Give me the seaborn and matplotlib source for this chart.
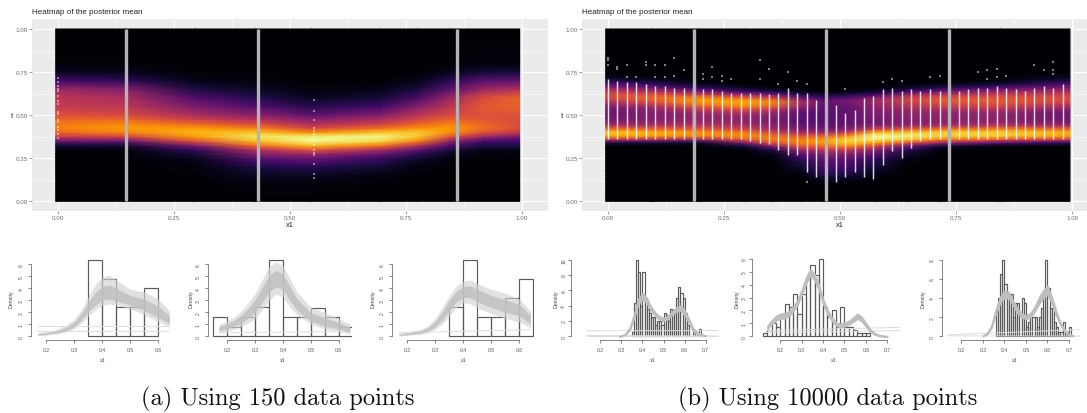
import numpy as np
import pandas as pd
import seaborn as sns

import matplotlib
matplotlib.use("Agg")
import matplotlib.pyplot as plt

W, H = 1087, 414

sns.set_theme(style="white")
plt.rcParams['font.family'] = ['Liberation Sans', 'DejaVu Sans']

# heatmap of panel (a)
left_x = [0, .15, .3, .43, .55, .7, .78, .85, .92, 1]
left_t = [0, .1, .15, .2, .225, .25, .275, .3, .325, .35, .375, .4, .425, .45, .475, .5, .55, .6, .65, .7, .75, .8, 1]
left_heat = [
    [0, 0, 0, 0, 0, 0, .01, .03, .1, .3, .52, .66, .72, .7, .66, .6, .52, .5, .42, .2, .06, .01, 0],
    [0, 0, 0, 0, 0, .005, .01, .03, .1, .3, .55, .72, .78, .74, .66, .58, .5, .46, .36, .16, .05, .01, 0],
    [0, .005, .01, .02, .03, .06, .1, .18, .35, .6, .78, .83, .78, .66, .55, .46, .34, .24, .12, .04, .01, 0, 0],
    [0, .02, .06, .12, .18, .26, .36, .47, .68, .85, .93, .86, .72, .58, .47, .38, .24, .14, .07, .03, .01, 0, 0],
    [0, .02, .06, .14, .22, .3, .42, .62, .85, .98, .96, .75, .57, .46, .37, .27, .14, .06, .02, .005, 0, 0, 0],
    [0, .01, .03, .09, .13, .18, .3, .45, .7, .9, .97, .86, .68, .55, .46, .36, .2, .1, .04, .01, 0, 0, 0],
    [0, 0, .01, .03, .05, .09, .15, .27, .48, .72, .86, .87, .76, .65, .57, .5, .36, .22, .11, .04, .01, 0, 0],
    [0, 0, 0, .01, .02, .03, .06, .12, .24, .38, .6, .75, .78, .72, .65, .58, .5, .42, .26, .15, .05, .01, 0],
    [0, 0, 0, 0, 0, .01, .02, .05, .12, .22, .42, .6, .68, .66, .62, .6, .62, .58, .42, .26, .1, .02, 0],
    [0, 0, 0, 0, 0, .01, .02, .05, .12, .2, .32, .5, .58, .58, .58, .6, .65, .65, .48, .27, .1, .02, 0],
]

# heatmap of panel (b)
right_x = [0, .1, .2, .3, .36, .42, .47, .52, .58, .65, .72, .85, 1]
right_t = [0, .05, .1, .125, .15, .175, .2, .225, .25, .275, .3, .32, .34, .36, .38, .4, .42, .44, .46, .48, .5, .52, .54, .56, .58, .6, .62, .64, .66, .68, .7, .72, .75, 1]
right_heat = [
    [0, 0, 0, 0, 0, 0, 0, 0, 0, 0, 0, 0, .12, .5, .8, .86, .68, .46, .36, .32, .3, .3, .32, .38, .48, .56, .58, .5, .38, .26, .14, .06, .01, 0],
    [0, 0, 0, 0, 0, 0, 0, 0, 0, 0, 0, 0, .1, .45, .78, .82, .66, .48, .4, .36, .34, .36, .4, .5, .6, .66, .6, .46, .3, .18, .08, .03, 0, 0],
    [0, 0, 0, 0, 0, 0, 0, 0, 0, 0, 0, 0, .08, .42, .72, .76, .62, .5, .42, .4, .4, .45, .55, .68, .78, .74, .54, .32, .16, .06, .02, .005, 0, 0],
    [0, 0, 0, 0, 0, 0, 0, 0, 0, .005, .03, .1, .34, .62, .75, .7, .55, .45, .4, .38, .42, .5, .64, .78, .8, .66, .4, .18, .06, .01, 0, 0, 0, 0],
    [0, 0, 0, 0, 0, 0, 0, .005, .02, .05, .14, .34, .6, .72, .68, .55, .44, .38, .35, .34, .36, .42, .54, .68, .72, .56, .3, .12, .03, .005, 0, 0, 0, 0],
    [0, 0, 0, 0, .02, .05, .08, .11, .18, .26, .42, .6, .72, .72, .6, .44, .34, .28, .26, .25, .26, .28, .34, .42, .44, .3, .14, .05, .01, 0, 0, 0, 0, 0],
    [0, 0, .02, .05, .12, .18, .22, .25, .3, .36, .5, .66, .78, .78, .64, .44, .32, .27, .25, .25, .25, .25, .26, .28, .28, .2, .08, .02, 0, 0, 0, 0, 0, 0],
    [0, 0, .01, .04, .1, .16, .2, .24, .28, .36, .52, .72, .86, .88, .74, .52, .36, .3, .28, .28, .28, .28, .28, .3, .32, .26, .12, .03, .005, 0, 0, 0, 0, 0],
    [0, 0, 0, .01, .03, .07, .1, .12, .18, .26, .38, .55, .78, .95, .98, .82, .54, .38, .32, .32, .34, .35, .36, .4, .42, .36, .2, .07, .02, 0, 0, 0, 0, 0],
    [0, 0, 0, 0, 0, 0, .01, .02, .04, .08, .16, .3, .58, .86, .95, .86, .62, .42, .36, .36, .38, .4, .44, .5, .54, .54, .4, .2, .07, .02, 0, 0, 0, 0],
    [0, 0, 0, 0, 0, 0, 0, 0, 0, .01, .03, .1, .4, .72, .88, .88, .68, .46, .38, .38, .38, .42, .48, .56, .62, .6, .48, .3, .14, .04, .01, 0, 0, 0],
    [0, 0, 0, 0, 0, 0, 0, 0, 0, 0, 0, .02, .25, .62, .86, .88, .72, .5, .4, .38, .38, .42, .5, .58, .62, .6, .52, .4, .24, .1, .03, .01, 0, 0],
    [0, 0, 0, 0, 0, 0, 0, 0, 0, 0, 0, .01, .15, .52, .78, .82, .66, .44, .34, .3, .3, .32, .38, .48, .56, .58, .54, .44, .34, .24, .14, .06, .01, 0],
]

# vertical marker lines
left_vlines = [.147, .43, .86]
right_vlines = [.186, .47, .734]

# observed points
left_pts_x = [0] * 16 + [.552] * 15
left_pts_t = [.715, .695, .672, .653, .64, .614, .585, .562, .517, .508, .47, .46, .431, .415, .392, .369,
              .59, .523, .47, .427, .41, .392, .373, .353, .328, .30, .28, .267, .214, .156, .135]

col_x = [0, .020, .041, .061, .082, .102, .122, .143, .163, .184, .204, .224, .245, .265, .286, .306, .327, .347, .367, .388,
         .408, .429, .449, .469, .490, .510, .531, .551, .571, .592, .612, .633, .653, .673, .694, .714, .735, .755, .776, .796,
         .816, .837, .857, .878, .898, .918, .939, .959, .980]
col_lo = [.36, .36, .36, .36, .36, .36, .36, .36, .36, .36, .36, .36, .36, .36, .36, .35, .34, .33, .30, .27,
          .27, .17, .14, .12, .11, .14, .17, .14, .13, .21, .29, .25, .31, .35, .36, .36, .36, .36, .36, .36,
          .36, .36, .36, .36, .36, .36, .36, .36, .36]
col_hi = [.71, .70, .69, .69, .68, .67, .67, .66, .66, .66, .65, .65, .64, .63, .63, .63, .63, .62, .63, .66,
          .63, .63, .59, .57, .56, .51, .53, .60, .61, .65, .66, .64, .65, .64, .65, .64, .64, .64, .65, .66,
          .66, .67, .66, .65, .64, .66, .67, .66, .68]
out_x = [0, 0, 0, .02, .02, .041, .041, .061, .082, .082, .102, .102, .122, .122, .143, .143, .163, .204, .204, .224, .224,
         .245, .245, .265, .327, .327, .347, .367, .388, .408, .429, .429, .51, .592, .612, .633, .694, .714, .796, .816, .816,
         .837, .837, .857, .918, .939, .959, .959, .959]
out_t = [.83, .82, .79, .78, .77, .79, .72, .72, .81, .79, .79, .72, .79, .72, .83, .73, .76, .74, .71, .78, .72,
         .73, .70, .71, .82, .71, .77, .68, .75, .70, .68, .11, .65, .69, .71, .70, .72, .73, .75, .76, .71,
         .77, .72, .73, .79, .76, .81, .76, .74]

# histograms, bin edges start + width
hist_a1 = [6.4, 4.8, 2.4, 2.4, 4.0]
hist_a2 = [1.6, .8, 1.6, 2.4, 6.4, 1.6, 1.6, 2.4, 1.6, .8]
hist_a3 = [2.4, 6.4, 1.6, 1.6, 3.2, 4.8]
hist_b1 = [.5, 4.4, 10, 8.4, 4.0, 8.4, 5.0, 3.6, 3.0, 2.5, 2.5, 1.5, 2.0, 2.0, 1.5, 3.0, 2.8, 2.0, 3.5, 3.4, 3.0, 5.0, 6.5, 5.6, 5.0, 3.0, 1.5, 0, 0, .5, .5, 0, 1.0]
hist_b2 = [.25, .5, 1.0, .75, 1.75, 2.5, 2.25, 3.25, 1.75, 3.25, 4.5, 5.5, 4.75, 6.0, 2.25, 1.5, 2.0, .75, 2.25, .75, .75, .5, .25, .25, .25]
hist_b3 = [2.5, 4, 6.5, 8, 5.5, 4.4, 4.4, 4.4, 2, 3.5, 3.5, 2.5, 4, 3.5, 1, 1.5, 2, 2, 2, 1, 2, 3, 4.4, 8, 5, 3, 3, 1.5, 1, .5, .5, 1.5, .5, .5, 1]

# posterior density bundles
dens_x_a = [.17, .2, .225, .25, .275, .3, .325, .35, .375, .4, .425, .45, .5, .55, .6, .64]
a1_lo = [.05, .1, .18, .25, .4, .65, 1.1, 1.7, 2.2, 2.6, 2.7, 2.6, 2.3, 1.8, 1.2, .8]
a1_mid = [.15, .2, .3, .4, .6, .95, 1.6, 2.4, 3.0, 3.4, 3.5, 3.3, 2.9, 2.5, 1.9, 1.3]
a1_hi = [.3, .4, .5, .7, 1.0, 1.4, 2.2, 3.3, 4.3, 4.9, 5.1, 4.7, 3.9, 3.7, 3.1, 2.1]
a2_lo = [.3, .45, .6, .8, 1.1, 1.5, 2.2, 3.0, 3.5, 3.3, 2.4, 1.8, 1.0, .6, .4, .2]
a2_mid = [.6, .85, 1.1, 1.4, 1.9, 2.5, 3.4, 4.4, 4.8, 4.5, 3.5, 2.6, 1.5, 1.1, .8, .5]
a2_hi = [1.0, 1.3, 1.6, 2.1, 2.8, 3.6, 4.7, 5.8, 6.2, 5.9, 4.8, 3.7, 2.4, 2.0, 1.5, 1.0]
a3_lo = [.05, .08, .12, .18, .3, .6, 1.0, 1.7, 2.4, 2.8, 2.7, 2.4, 1.9, 1.5, 1.2, .7]
a3_mid = [.12, .17, .25, .35, .6, 1.0, 1.7, 2.6, 3.3, 3.7, 3.7, 3.4, 2.9, 2.5, 2.2, 1.4]
a3_hi = [.25, .35, .5, .6, .9, 1.5, 2.4, 3.4, 4.2, 4.6, 4.7, 4.4, 3.9, 3.6, 3.1, 2.1]

b1_x = [.29, .30, .32, .34, .36, .38, .40, .42, .44, .46, .48, .50, .52, .54, .56, .58, .60, .62, .64, .66, .68, .70]
b1_mid = [0, .05, .3, 1.0, 2.6, 4.6, 5.2, 4.7, 3.6, 2.9, 2.4, 2.2, 2.5, 3.0, 3.5, 3.7, 3.1, 2.0, .9, .4, .2, .05]
b1_half = [.02, .03, .05, .1, .2, .3, .4, .3, .25, .2, .2, .2, .2, .22, .25, .3, .3, .22, .15, .1, .05, .02]
b2_x = [.14, .16, .18, .20, .22, .24, .26, .28, .30, .32, .34, .36, .38, .40, .42, .44, .46, .48, .50, .52, .54, .56, .58, .60, .62, .64, .66, .68, .70]
b2_mid = [.7, 1.1, 1.4, 1.55, 1.6, 1.75, 2.1, 2.6, 3.4, 4.3, 4.95, 4.6, 3.8, 2.7, 1.9, 1.35, .95, .85, .9, 1.05, 1.3, 1.55, 1.35, .9, .45, .2, .07, .02, 0]
b2_half = [.1, .13, .17, .18, .18, .17, .16, .16, .17, .2, .24, .22, .18, .16, .14, .12, .12, .12, .12, .13, .15, .18, .15, .12, .08, .05, .03, .02, .01]
b3_x = [.30, .32, .34, .36, .38, .40, .42, .44, .46, .48, .50, .52, .54, .56, .58, .60, .62, .64, .66, .68, .70, .72]
b3_mid = [.05, .3, 1.0, 2.6, 3.8, 4.4, 4.3, 3.5, 2.7, 2.2, 2.0, 2.2, 2.8, 3.7, 4.4, 4.8, 3.8, 2.4, 1.3, .6, .2, .05]
b3_half = [.02, .05, .1, .2, .28, .34, .3, .22, .2, .18, .18, .2, .22, .3, .38, .44, .3, .2, .12, .07, .04, .02]

fig = plt.figure(figsize=(W / 100, H / 100), dpi=100)


def px_axes(l, r, t, b):
    return fig.add_axes([l / W, 1 - b / H, (r - l) / W, (b - t) / H])


def heat_panel(l, r, x0, px, heat_x, heat_t, heat, vlines, title):
    ax = px_axes(l, r, 20, 212)
    ax.set_facecolor('#EBEBEB')
    ax.set_xlim((l - x0) / px, (r - x0) / px)
    ax.set_ylim(-.056, 1.058)
    sns.despine(ax=ax, left=True, bottom=True)
    ticks = [0, .25, .5, .75, 1]
    ax.set_xticks(ticks, ['0.00', '0.25', '0.50', '0.75', '1.00'])
    ax.set_yticks(ticks, ['0.00', '0.25', '0.50', '0.75', '1.00'])
    ax.set_xticks([.125, .375, .625, .875], minor=True)
    ax.set_yticks([.125, .375, .625, .875], minor=True)
    ax.grid(True, which='major', color='white', lw=.8)
    ax.grid(True, which='minor', color='white', lw=.4)
    ax.tick_params(which='major', length=2, width=.4, color='#555555', labelcolor='#6e6e6e', labelsize=4.5, pad=1.2, bottom=True, left=True)
    ax.tick_params(which='minor', length=0)
    ax.set_axisbelow(True)
    # shift the raster a hair left of zero like the source tile layer
    grid_x = np.array(heat_x) - .005
    ax.pcolormesh(grid_x, heat_t, np.array(heat).T, shading='gouraud', cmap='inferno', vmin=0, vmax=1, zorder=2, rasterized=True)
    ax.vlines(vlines, 0, 1, color='#b4b4b4', lw=2.4, zorder=4)
    fig.text(l / W, 1 - 12 / H, title, fontsize=5.75, color='#222222', va='center')
    fig.text((x0 + px * .5) / W, 1 - 226 / H, 'x1', fontsize=5.4, color='#222222', ha='center', va='center')
    fig.text((l - 20) / W, 1 - 116 / H, 't', fontsize=5.4, color='#222222', ha='center', va='center')
    return ax


def small_panel(xa, xr, px02, ppu, ymax, ppy, hist, start, width, ticks_x, ticks_y, dens_off, ypad=3):
    ax = px_axes(xa, xr, 254, 340.7)
    ax.set_xlim(.2 + (xa - px02) / ppu, .2 + (xr - px02) / ppu)
    ax.set_ylim(-3.4 / ppy, (337.3 - 254) / ppy)
    ax.patch.set_alpha(0)
    edges = [start + width * i for i in range(len(hist) + 1)]
    sns.histplot(x=[e + width / 2 for e in edges[:-1]], weights=hist, bins=edges, fill=False, color='#5a5a5a', linewidth=.85, ax=ax)
    ax.set_xlabel('')
    ax.set_ylabel('')
    for s in ['top', 'right']:
        ax.spines[s].set_visible(False)
    for s in ['left', 'bottom']:
        ax.spines[s].set_linewidth(.5)
        ax.spines[s].set_color('#555555')
    ax.spines['left'].set_bounds(0, ymax)
    ax.spines['bottom'].set_bounds(ticks_x[0], ticks_x[-1])
    ax.set_xticks(ticks_x, [str(v) for v in ticks_x])
    ax.set_yticks(ticks_y, [str(v) for v in ticks_y])
    ax.tick_params(length=2.2, width=.5, color='#555555', labelsize=3.6, labelcolor='#555555', pad=3, bottom=True, left=True)
    ax.tick_params(axis='y', pad=ypad)
    plt.setp(ax.get_yticklabels(), rotation=90, va='center')
    fig.text((xa - dens_off) / W, 1 - 299 / H, 'Density', rotation=90, fontsize=3.8, color='#444444', ha='center', va='center')
    fig.text((px02 + ppu * (ticks_x[0] + ticks_x[-1] - .4) / 2) / W, 1 - 361 / H, 'x1', fontsize=3.8, color='#444444', ha='center', va='center')
    return ax


def bundle(ax, xs, lo, mid, hi, flats):
    lo, mid, hi = np.array(lo), np.array(mid), np.array(hi)
    ax.fill_between(xs, lo, hi, color='#d2d2d2', alpha=.65, lw=0, zorder=3)
    ax.fill_between(xs, (lo + mid) / 2, (hi + mid) / 2, color='#bfbfbf', alpha=.8, lw=0, zorder=4)
    for fx, fy in flats:
        sns.lineplot(x=fx, y=fy, color='#dddddd', lw=.7, ax=ax, zorder=3)


def ribbon(ax, xs, mid, half, flats):
    mid, half = np.array(mid), np.array(half)
    for fx, fy in flats:
        sns.lineplot(x=fx, y=fy, color='#dcdcdc', lw=.7, ax=ax, zorder=3)
    ax.fill_between(xs, mid - half, mid + half, color='#bebebe', lw=1.3, zorder=4)


ax = heat_panel(32, 548, 58, 464, left_x, left_t, left_heat, left_vlines, 'Heatmap of the posterior mean')
sns.scatterplot(x=left_pts_x, y=left_pts_t, marker='s', s=1.4, color='white', alpha=.45, linewidth=0, ax=ax, zorder=3)

ax = heat_panel(582, 1098, 608, 464.3, right_x, right_t, right_heat, right_vlines, 'Heatmap of the posterior mean')
ax.vlines(col_x, col_lo, col_hi, color='white', alpha=.85, lw=1.05, zorder=3)
sns.scatterplot(x=out_x, y=out_t, marker='s', s=1.1, color='white', alpha=.5, linewidth=0, ax=ax, zorder=3)

ax = small_panel(31, 170, 46.3, 280, 6, 12, hist_a1, .35, .05, [.2, .3, .4, .5, .6], [0, 1, 2, 3, 4, 5, 6], 20)
bundle(ax, dens_x_a, a1_lo, a1_mid, a1_hi, [([.17, .64], [.85, .85]), ([.17, .64], [.4, .42])])
ax = small_panel(208, 352, 227.3, 278.5, 6, 12, hist_a2, .15, .05, [.2, .3, .4, .5, .6], [0, 1, 2, 3, 4, 5, 6], 17)
bundle(ax, dens_x_a, a2_lo, a2_mid, a2_hi, [([.17, .64], [.3, .4])])
ax = small_panel(391.7, 534, 407.3, 280, 6, 12, hist_a3, .35, .05, [.2, .3, .4, .5, .6], [0, 1, 2, 3, 4, 5, 6], 19)
bundle(ax, dens_x_a, a3_lo, a3_mid, a3_hi, [([.17, .64], [.3, .55])])

ax = small_panel(571, 719, 600.3, 210.8, 10, 7.66, hist_b1, .35, .01, [.2, .3, .4, .5, .6, .7], [0, 2, 4, 6, 8, 10], 15, ypad=1.2)
ribbon(ax, b1_x, b1_mid, b1_half, [([.135, .76], [.72, .75]), ([.135, .76], [.02, .02]), ([.135, .76], [.1, .05])])
ax = small_panel(751.7, 900, 780.3, 214, 6, 12.9, hist_b2, .12, .02, [.2, .3, .4, .5, .6, .7], [0, 1, 2, 3, 4, 5, 6], 15, ypad=1.2)
ribbon(ax, b2_x, b2_mid, b2_half, [([.14, .78], [.45, .7]), ([.14, .78], [.3, .45])])
ax = small_panel(941.7, 1080, 961.3, 215.4, 8, 9.58, hist_b3, .36, .01, [.2, .3, .4, .5, .6, .7], [0, 2, 4, 6, 8], 19)
ribbon(ax, b3_x, b3_mid, b3_half, [([.14, .75], [.15, .7]), ([.14, .75], [.05, .02])])

fig.text(278 / W, 1 - 399 / H, '(a) Using 150 data points', family='cmr10', fontsize=17.6, color='#111111', ha='center', va='center')
fig.text(828 / W, 1 - 399 / H, '(b) Using 10000 data points', family='cmr10', fontsize=17.6, color='#111111', ha='center', va='center')

fig.savefig('out.png', dpi=100)
